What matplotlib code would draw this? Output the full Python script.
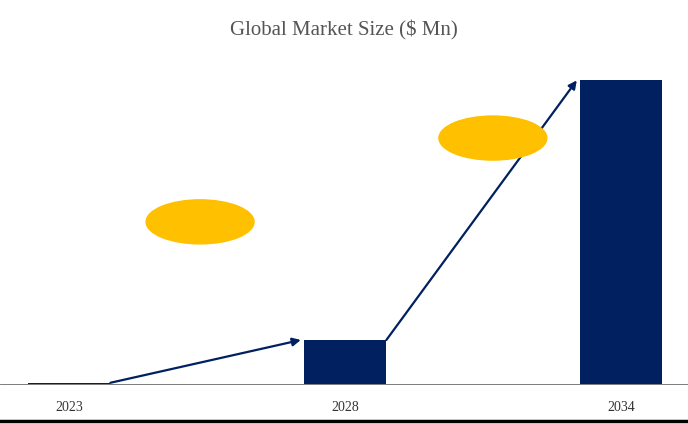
import matplotlib.pyplot as plt
from matplotlib.patches import Ellipse
from matplotlib.lines import Line2D

years = ['2023', '2028', '2034']
values = [0.4, 14.5, 100]

navy = '#002060'
gold = '#FFC000'

fig = plt.figure(figsize=(6.88, 4.24), dpi=100)
ax = fig.add_axes([0, 40 / 424, 1, 334 / 424])
x = list(range(len(years)))
w = 0.3
ax.bar(x, values, width=w, color=navy)
ax.set_xlim(-0.25, 2.243)
ax.set_ylim(0, 110)

# growth arrows between bars
for i in range(len(values) - 1):
    ax.annotate('', xy=(x[i + 1] - w / 2 - 0.01, values[i + 1]),
                xytext=(x[i] + w / 2, values[i]),
                arrowprops=dict(arrowstyle='-|>', color=navy, lw=1.6,
                                mutation_scale=12, shrinkA=0, shrinkB=0))

# placeholder ellipses for CAGR labels
ax.add_patch(Ellipse((0.475, 53.4), 0.391, 14.5, color=gold, zorder=3))
ax.add_patch(Ellipse((1.536, 81.0), 0.391, 14.5, color=gold, zorder=3))

ax.set_xticks(x)
ax.set_xticklabels(years, family='Liberation Serif', fontsize=10, color='#333333')
ax.tick_params(axis='x', length=0, pad=12)
ax.set_yticks([])
for s in ax.spines.values():
    s.set_visible(False)
ax.spines['bottom'].set_visible(True)
ax.spines['bottom'].set_color('#666666')
ax.spines['bottom'].set_linewidth(0.6)

fig.text(0.5, 1 - 30 / 424, 'Global Market Size ($ Mn)', ha='center', va='center',
         family='Liberation Serif', fontsize=15, color='#555555')
fig.add_artist(Line2D([0, 1], [1 - 421 / 424] * 2, color='black', lw=2.5,
                      transform=fig.transFigure))

fig.savefig('out.png', dpi=100)
